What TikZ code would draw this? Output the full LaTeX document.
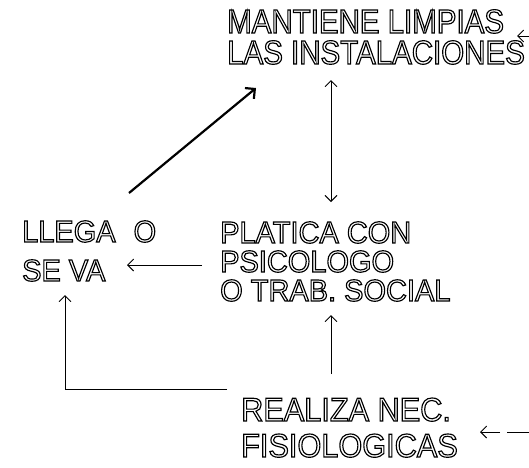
\documentclass[tikz,border=0pt]{standalone}
\usepackage{fontspec}
\newfontfamily\letteringTop[FakeStretch=0.88]{Liberation Sans}
\newfontfamily\letteringMid[FakeStretch=0.95]{Liberation Sans}
\newfontfamily\letteringBot[FakeStretch=0.93]{Liberation Sans}
\usetikzlibrary{arrows.meta}
\newcommand{\hollow}[1]{\special{pdf:literal direct 1 Tr 1.15 w}#1\special{pdf:literal direct 0 Tr}}
\begin{document}
\begin{tikzpicture}[x=1pt,y=-1pt,
  lbl/.style={anchor=base west, inner sep=0pt, font=\letteringMid\fontsize{30.5}{30.5}\selectfont},
  toplbl/.style={lbl, font=\letteringTop\fontsize{33.5}{33.5}\selectfont},
  botlbl/.style={lbl, font=\letteringBot\fontsize{33}{33}\selectfont},
  conn/.style={line width=0.9pt, -{Straight Barb[length=6pt,width=12pt]}},
  bothconn/.style={line width=0.9pt, {Straight Barb[length=6pt,width=12pt]}-{Straight Barb[length=6pt,width=12pt]}},
  thickconn/.style={line width=2.2pt, -{Straight Barb[length=7pt,width=14pt]}}]
\path[use as bounding box] (0,0) rectangle (529,467);

% texts
\node[toplbl] (mantA) at (227,33) {\hollow{MANTIENE LIMPIAS}};
\node[toplbl] (mantB) at (227,64) {\hollow{LAS INSTALACIONES}};
\node[lbl] (llegaA) at (22,242) {\hollow{LLEGA\hspace{18pt}O}};
\node[lbl] (llegaB) at (22,281) {\hollow{SE VA}};
\node[lbl] (platA) at (220,243) {\hollow{PLATICA CON}};
\node[lbl] (platB) at (220,272) {\hollow{PSICOLOGO}};
\node[lbl] (platC) at (220,301) {\hollow{O TRAB. SOCIAL}};
\node[botlbl] (realA) at (241,421) {\hollow{REALIZA NEC.}};
\node[botlbl] (realB) at (241,457) {\hollow{FISIOLOGICAS}};

% connector end points
\coordinate (tr0) at (529,36);
\coordinate (tr1) at (517,36);
\coordinate (dblA) at (331,80);
\coordinate (dblB) at (331,202);
\coordinate (diag0) at (129,193);
\coordinate (diag1) at (256,88);
\coordinate (left0) at (202,265);
\coordinate (left1) at (127,265);
\coordinate (up0) at (331,374);
\coordinate (up1) at (331,315);
\coordinate (br0) at (227,389);
\coordinate (brC) at (65,389);
\coordinate (br1) at (65,295);
\coordinate (rb0) at (529,432);
\coordinate (rb1) at (480,432);

% connectors
\draw[conn] (tr0) -- (tr1);
\draw[bothconn] (dblA) -- (dblB);
\draw[thickconn] (diag0) -- (diag1);
\draw[conn] (left0) -- (left1);
\draw[conn] (up0) -- (up1);
\draw[conn] (br0) -- (brC) -- (br1);
\draw[conn, dash pattern=on 22pt off 7pt on 40pt off 0pt] (rb0) -- (rb1);
\end{tikzpicture}
\end{document}
